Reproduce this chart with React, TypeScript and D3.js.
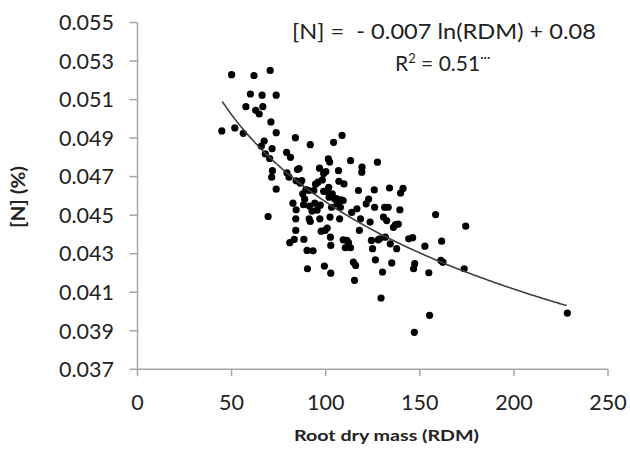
import React from "react";
import * as d3 from "d3";

const rdm: number[] = [
  44.8, 50, 51.7, 56.2, 57.6, 60, 61.9, 62.8, 64.7, 66.2, 66.6, 67.3, 65.8, 67.9, 69.4, 70.5, 70.9, 71.5, 70.2, 71.7,
  71.3, 73.7, 73.7, 73.7, 79.2, 81.3, 79.4, 80.5, 80.9, 82.6, 83.9, 84.3, 85, 85.8, 84.3, 84.1, 84.1, 83.3, 86.5, 87.3,
  87.8, 88.2, 88.4, 88.8, 89.5, 90.1, 91, 90.3, 91.4, 91.8, 91.2, 91.8, 92.7, 93.3, 94.2, 94.6, 93.7, 95.4, 95.9, 96.7,
  96.9, 97.1, 97.6, 98.2, 98.9, 98.9, 99.3, 99.7, 100.1, 100.8, 100.8, 101.4, 102.1, 101.6, 101.8, 102.3, 102.5, 102.7, 102.7, 103.1,
  103.5, 104.2, 104.8, 105.7, 106.1, 106.8, 107, 107.4, 107.8, 108.2, 108.7, 109.3, 109.7, 109.3, 110.4, 111.2, 112.1, 113.2, 113.2, 113.8,
  114.7, 115.3, 115.9, 116.6, 117.4, 117.9, 118.5, 119.2, 119.3, 121.5, 122.8, 123.6, 124.3, 124.9, 125.8, 126, 126.4, 127.5, 127.9, 128.7,
  129.4, 130.2, 130.7, 131.3, 131.7, 132.4, 133.2, 133.9, 134.3, 135.1, 136, 137.1, 137.7, 138.6, 139.4, 139.8, 141.1, 144.1, 146.2, 146.7,
  147.3, 147.1, 152.7, 154.8, 155.2, 158.4, 161.6, 161.2, 162.3, 173.6, 174.4, 228.4,
];
const nPct: number[] = [
  0.04937, 0.05229, 0.04953, 0.04925, 0.05063, 0.05129, 0.05225, 0.05044, 0.05025, 0.05123, 0.05063, 0.04885, 0.04858, 0.04818, 0.04493, 0.05251, 0.04984, 0.04845, 0.04794, 0.04731,
  0.04697, 0.05123, 0.04928, 0.04635, 0.04826, 0.048, 0.04719, 0.04697, 0.04357, 0.04562, 0.04902, 0.04678, 0.04737, 0.04742, 0.04528, 0.04481, 0.04421, 0.04374, 0.04666, 0.0468,
  0.04611, 0.04554, 0.04374, 0.04583, 0.04633, 0.04317, 0.04628, 0.04222, 0.04547, 0.04866, 0.04481, 0.04467, 0.04521, 0.04315, 0.04562, 0.04661, 0.04628, 0.04526, 0.04671, 0.04744,
  0.04481, 0.04552, 0.04417, 0.04683, 0.04716, 0.04624, 0.04236, 0.04421, 0.04726, 0.04623, 0.04433, 0.04792, 0.04776, 0.04645, 0.04593, 0.0449, 0.04386, 0.04343, 0.04199, 0.04541,
  0.0461, 0.04878, 0.04584, 0.04586, 0.04559, 0.04731, 0.04676, 0.04481, 0.04541, 0.04579, 0.04914, 0.04576, 0.04662, 0.04372, 0.04331, 0.04369, 0.04357, 0.04783, 0.04331, 0.04514,
  0.04256, 0.04162, 0.04239, 0.04533, 0.04628, 0.04421, 0.04481, 0.04723, 0.04749, 0.04559, 0.04584, 0.04464, 0.04369, 0.04326, 0.04631, 0.04541, 0.04268, 0.04775, 0.04372, 0.04377,
  0.0407, 0.04205, 0.0449, 0.04541, 0.04386, 0.04472, 0.04541, 0.04641, 0.04351, 0.04252, 0.04437, 0.04451, 0.04326, 0.04454, 0.04528, 0.04615, 0.04639, 0.04377, 0.04383, 0.04222,
  0.04248, 0.03892, 0.04339, 0.04201, 0.0398, 0.04503, 0.04365, 0.04265, 0.04256, 0.04222, 0.04443, 0.03992,
];

const xTicks: number[] = [0, 50, 100, 150, 200, 250];
const yTicks: number[] = [0.037, 0.039, 0.041, 0.043, 0.045, 0.047, 0.049, 0.051, 0.053, 0.055];

// fitted trend line  y = a ln(x) + b  (drawn over fitRange)
const fitA = -0.00653;
const fitB = 0.07576;
const fitRange: number[] = [45, 228];

export default function App() {
  const W = 630, H = 449;
  const left = 137.5, right = 608, top = 22.5, bottom = 369.3;
  const x = d3.scaleLinear().domain([0, 250]).range([left, right]);
  const y = d3.scaleLinear().domain([0.037, 0.055]).range([bottom, top]);

  const fitX = d3.range(fitRange[0], fitRange[1] + 0.01, 1);
  const line = d3
    .line<number>()
    .x((d) => x(d))
    .y((d) => y(fitA * Math.log(d) + fitB));

  const axisColor = "#a6a6a6";
  const font = "Lato, 'Open Sans', sans-serif";
  const textColor = "#222";

  return (
    <svg width={W} height={H} style={{ position: "absolute", left: 0, top: 0, background: "#fff" }}>
      {/* axes */}
      <line x1={left} x2={left} y1={top} y2={bottom} stroke={axisColor} strokeWidth={1.5} />
      <line x1={left} x2={right} y1={bottom} y2={bottom} stroke={axisColor} strokeWidth={1.5} />
      {yTicks.map((t) => (
        <g key={"y" + t}>
          <line x1={left - 8} x2={left} y1={y(t)} y2={y(t)} stroke={axisColor} strokeWidth={1.5} />
          <text x={114} y={y(t)} dy="0.36em" textAnchor="end" fontFamily={font} fontSize={21.5} fill={textColor}>
            {t.toFixed(3)}
          </text>
        </g>
      ))}
      {xTicks.map((t) => (
        <g key={"x" + t}>
          <line x1={x(t)} x2={x(t)} y1={bottom} y2={bottom + 7} stroke={axisColor} strokeWidth={1.5} />
          <text x={x(t)} y={410} textAnchor="middle" fontFamily={font} fontSize={21.5} fill={textColor}>
            {t}
          </text>
        </g>
      ))}

      {/* points */}
      {rdm.map((v, i) => (
        <circle key={i} cx={x(v)} cy={y(nPct[i])} r={3.6} fill="#000" />
      ))}

      {/* trend line */}
      <path d={line(fitX) || ""} fill="none" stroke="#404040" strokeWidth={1.6} />

      {/* equation */}
      <text x={292} y={38.5} fontFamily={font} fontSize={21} fill={textColor} textLength={304} lengthAdjust="spacingAndGlyphs">
        [N] = &#160;- 0.007 ln(RDM) + 0.08
      </text>
      <text x={395} y={70.5} fontFamily={font} fontSize={21} fill={textColor}>
        R<tspan fontSize={13} dy={-8}>2</tspan>
        <tspan dy={8}> = 0.51</tspan>
        <tspan fontSize={13} dy={-9}>···</tspan>
      </text>

      {/* axis titles */}
      <text x={294} y={441} fontFamily={font} fontSize={16} fontWeight={700} fill={textColor} textLength={185} lengthAdjust="spacingAndGlyphs">
        Root dry mass (RDM)
      </text>
      <text
        transform={`translate(24.5, 197) rotate(-90)`}
        textAnchor="middle"
        fontFamily={font}
        fontSize={19}
        fontWeight={700}
        fill={textColor}
        textLength={62}
        lengthAdjust="spacingAndGlyphs"
      >
        [N] (%)
      </text>
    </svg>
  );
}
